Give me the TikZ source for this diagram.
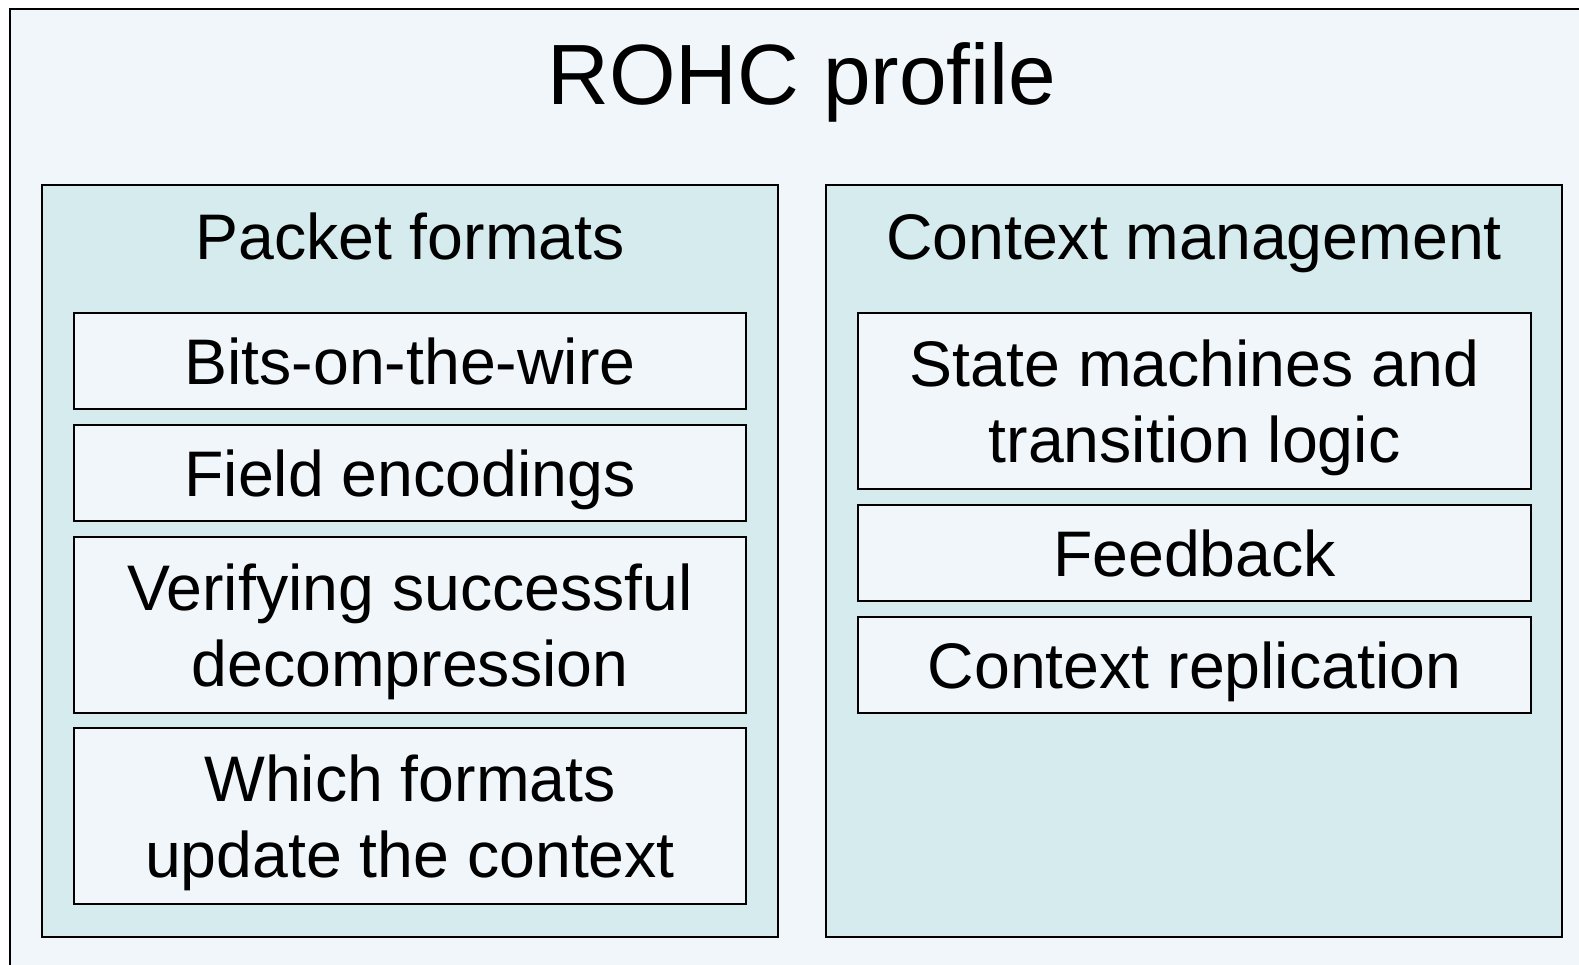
\documentclass[tikz,border=0pt]{standalone}
\usepackage{fontspec}
\setmainfont{Liberation Sans}
\definecolor{outerbg}{HTML}{F0F6F9}
\definecolor{panelbg}{HTML}{D6EBEE}
\begin{document}
\begin{tikzpicture}[x=1pt,y=-1pt,
  panel/.style={draw=black,line width=2pt,fill=panelbg,minimum width=736pt,minimum height=752pt,inner sep=0pt,outer sep=0pt},
  item/.style={draw=black,line width=2pt,fill=outerbg,minimum width=672pt,inner sep=0pt,outer sep=0pt,
    font=\fontsize{64.4}{76.5}\selectfont,align=center,text depth=-3pt},
  short/.style={minimum height=96pt},
  tall/.style={minimum height=176pt},
  head/.style={font=\fontsize{64.4}{76.5}\selectfont,anchor=base,inner sep=0pt},
  title/.style={font=\fontsize{85.6}{100}\selectfont,anchor=base,inner sep=0pt}]
\useasboundingbox (0,0) rectangle (1579,965);
\fill[outerbg] (10,9) rectangle (1579,965);
\draw[line width=2pt] (10,980) -- (10,9) -- (1590,9);
\node[title] (t) at (802,104.7) {ROHC profile};
\node[panel] (lp) at (410,561) {};
\node[panel] (rp) at (1194,561) {};
\node[head] (lh) at (410,259.8) {Packet formats};
\node[head] (rh) at (1194,259.8) {Context management};
\node[item,short] (a1) at (410,361) {Bits-on-the-wire};
\node[item,short] (a2) at (410,473) {Field encodings};
\node[item,tall] (a3) at (410,625) {Verifying successful\\decompression};
\node[item,tall] (a4) at (410,816) {Which formats\\update the context};
\node[item,tall,minimum width=673pt] (b1) at (1194.5,401) {State machines and\\transition logic};
\node[item,short,minimum width=673pt] (b2) at (1194.5,553) {Feedback};
\node[item,short,minimum width=673pt] (b3) at (1194.5,665) {Context replication};
\end{tikzpicture}
\end{document}
